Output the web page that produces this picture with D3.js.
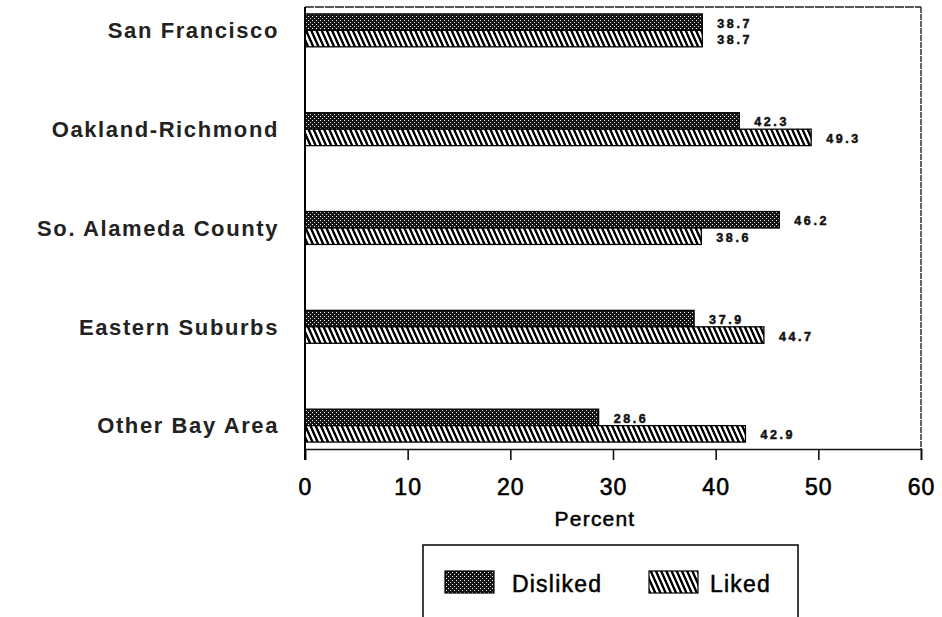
<!DOCTYPE html>
<html><head><meta charset="utf-8">
<script src="https://cdn.jsdelivr.net/npm/d3@7"></script>
<style>
html,body{margin:0;padding:0;background:#fff;}
svg{display:block;}
</style></head>
<body>
<script>
const categories = ["San Francisco","Oakland-Richmond","So. Alameda County","Eastern Suburbs","Other Bay Area"];
const series = ["Disliked","Liked"];
const disliked = [38.7, 42.3, 46.2, 37.9, 28.6];
const liked = [38.7, 49.3, 38.6, 44.7, 42.9];
const xTicks = [0,10,20,30,40,50,60];
const xTitle = "Percent";

(function(){
const W = 942, H = 617;
const svg = d3.select("body").append("svg").attr("width", W).attr("height", H);
const defs = svg.append("defs");

// stipple pattern (Disliked)
const p1 = defs.append("pattern").attr("id","stip").attr("patternUnits","userSpaceOnUse")
  .attr("width",4).attr("height",4);
p1.append("rect").attr("width",4).attr("height",4).attr("fill","#151515");
p1.append("rect").attr("x",0).attr("y",0).attr("width",1).attr("height",1).attr("fill","#fff");
p1.append("rect").attr("x",2).attr("y",2).attr("width",1).attr("height",1).attr("fill","#ddd");

// hatch pattern (Liked)
const p2 = defs.append("pattern").attr("id","hatch").attr("patternUnits","userSpaceOnUse")
  .attr("width",5.2).attr("height",20).attr("patternTransform","skewX(24)");
p2.append("rect").attr("width",5.2).attr("height",20).attr("fill","#fff");
p2.append("rect").attr("x",0).attr("y",0).attr("width",2.6).attr("height",20).attr("fill","#000");

const fills = {Disliked:"url(#stip)", Liked:"url(#hatch)"};
const vals = {Disliked:disliked, Liked:liked};

const mLeft = 305, mRight = 921, mTop = 7, mBottom = 449;
const x = d3.scaleLinear().domain([0,60]).range([mLeft,mRight]);
const y = d3.scaleBand().domain(categories).range([mTop,mBottom]).paddingInner(0.667).paddingOuter(0.07);
const ys = d3.scaleBand().domain(series).range([0,y.bandwidth()]).padding(0);

// frame
svg.append("line").attr("x1",mLeft).attr("x2",mRight).attr("y1",mTop).attr("y2",mTop)
  .attr("stroke","#222").attr("stroke-width",1.6).attr("stroke-dasharray","9,1");
svg.append("line").attr("x1",mRight).attr("x2",mRight).attr("y1",mTop).attr("y2",mBottom)
  .attr("stroke","#222").attr("stroke-width",1.4).attr("stroke-dasharray","6,1");

// bars
categories.forEach((c,i)=>{
  series.forEach(s=>{
    const v = vals[s][i];
    const by = y(c)+ys(s);
    svg.append("rect").attr("x",x(0)).attr("y",by).attr("width",x(v)-x(0)).attr("height",ys.bandwidth())
      .attr("fill",fills[s]).attr("stroke","#000").attr("stroke-width",1.3);
    svg.append("text").attr("x",x(v)+15).attr("y",by+ys.bandwidth()/2+1.5)
      .attr("dominant-baseline","central")
      .attr("font-family","Liberation Sans, Arial, sans-serif").attr("font-weight","bold")
      .attr("font-size",12.5).attr("letter-spacing","2.6px").attr("fill","#111")
      .attr("stroke","#111").attr("stroke-width",0.5)
      .text(v.toFixed(1));
  });
});

// x axis
const xAxis = d3.axisBottom(x).tickValues(xTicks).tickSize(11).tickPadding(19).tickFormat(d3.format("d"));
const gx = svg.append("g").attr("transform",`translate(0,${mBottom})`).call(xAxis);
gx.select(".domain").attr("stroke","#111").attr("stroke-width",1.6);
gx.selectAll(".tick line").attr("stroke","#111").attr("stroke-width",1.6);
gx.selectAll(".tick text").attr("font-family","Liberation Sans, Arial, sans-serif")
  .attr("font-size",23).attr("letter-spacing","1px").attr("fill","#000").attr("stroke","#000").attr("stroke-width",0.6);

// left axis line
svg.append("line").attr("x1",mLeft).attr("x2",mLeft).attr("y1",mTop).attr("y2",mBottom+11)
  .attr("stroke","#000").attr("stroke-width",2);

// category labels
const yAxis = d3.axisLeft(y).tickSize(0).tickPadding(mLeft-279);
const gy = svg.append("g").attr("transform",`translate(${mLeft},0)`).call(yAxis);
gy.select(".domain").remove();
gy.selectAll(".tick text").attr("font-family","Liberation Sans, Arial, sans-serif")
  .attr("font-weight","bold").attr("font-size",22).attr("letter-spacing","1.6px")
  .attr("fill","#222").attr("dy","0.35em");

// x title
svg.append("text").attr("x",(mLeft+mRight)/2 - 18).attr("y",526).attr("text-anchor","middle")
  .attr("font-family","Liberation Sans, Arial, sans-serif").attr("font-size",21)
  .attr("letter-spacing","1.2px").attr("fill","#000").attr("stroke","#000").attr("stroke-width",0.5)
  .text(xTitle);

// legend
const lg = svg.append("g");
lg.append("rect").attr("x",423).attr("y",545).attr("width",375).attr("height",120)
  .attr("fill","none").attr("stroke","#111").attr("stroke-width",1.6);
const legendItems = [
  {s:"Disliked", sx:445, tx:512},
  {s:"Liked", sx:649, tx:710}
];
legendItems.forEach(d=>{
  lg.append("rect").attr("x",d.sx).attr("y",571).attr("width",49).attr("height",22)
    .attr("fill",fills[d.s]).attr("stroke","#000").attr("stroke-width",1.2);
  lg.append("text").attr("x",d.tx).attr("y",592)
    .attr("font-family","Liberation Sans, Arial, sans-serif").attr("font-size",23)
    .attr("letter-spacing","1.2px").attr("fill","#000").attr("stroke","#000").attr("stroke-width",0.5)
    .text(d.s);
});
})();
</script>
</body></html>
